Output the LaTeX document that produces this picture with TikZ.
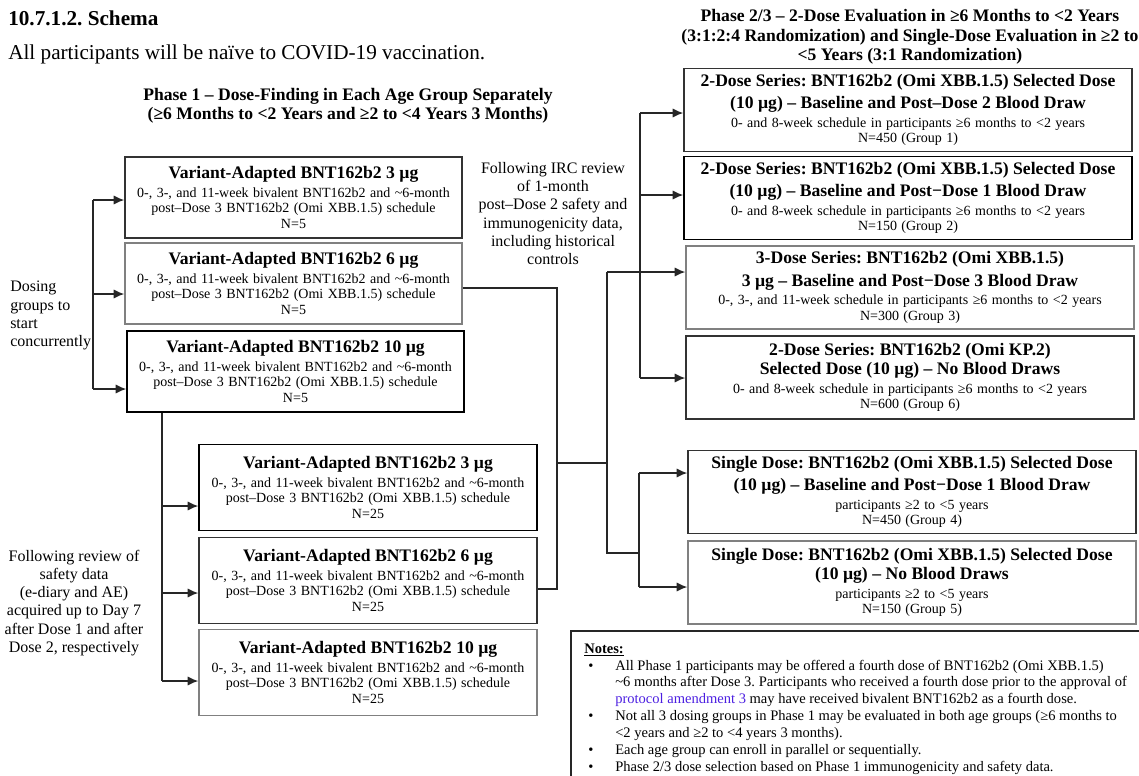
\documentclass[tikz,border=0pt]{standalone}
\usepackage{fontspec}
\setmainfont{Liberation Serif}
\usepackage{tikz}
\usetikzlibrary{arrows.meta}
\definecolor{linkblue}{RGB}{75,30,225}
\frenchspacing

\newcommand{\hdfont}{\fontsize{13.2}{17}\selectfont\bfseries}
\newcommand{\subfont}{\fontsize{10.5}{11.75}\selectfont}
\newcommand{\boxtext}[2]{{\hdfont #1\par}\vspace{2pt}{\subfont #2\par}}
\newcommand{\sched}{0-, 3-, and 11-week bivalent BNT162b2 and \textasciitilde6-month\\post–Dose 3 BNT162b2 (Omi XBB.1.5) schedule}

\begin{document}
\begin{tikzpicture}
	[x=0.75pt,y=-0.75pt,
	abox/.style={rectangle,draw=black!80,line width=1.1pt,inner sep=0pt,minimum width=252.75pt,minimum height=61pt,text width=250pt,align=center},
	bbox/.style={abox,minimum width=253.5pt,minimum height=64.5pt},
	rbox/.style={abox,minimum width=336pt,minimum height=62pt,text width=334pt},
	pale/.style={draw=black!50},
	side/.style={inner sep=0pt,font=\fontsize{12}{13.6}\selectfont,align=center},
	head/.style={inner sep=0pt,font=\fontsize{13.2}{14.5}\selectfont\bfseries,align=center},
	wire/.style={draw=black!85,line width=1pt},
	edge/.style={wire,->,>={Latex[length=8pt,width=7pt]}}]
	\useasboundingbox (0,0) rectangle (1139,775);

	\node[anchor=base west,inner sep=0pt,font=\fontsize{15.9}{18}\selectfont\bfseries] (title) at (8,25) {10.7.1.2. Schema};
	\node[anchor=base west,inner sep=0pt,font=\fontsize{15.9}{18}\selectfont] (naive) at (8,59) {All participants will be naïve to COVID-19 vaccination.};
	\node[head] (ph1) at (348,106) {Phase 1 – Dose-Finding in Each Age Group Separately\\(≥6 Months to <2 Years and ≥2 to <4 Years 3 Months)};
	\node[head] (ph23) at (910,37) {Phase 2/3 – 2-Dose Evaluation in ≥6 Months to <2 Years\\(3:1:2:4 Randomization) and Single-Dose Evaluation in ≥2 to\\<5 Years (3:1 Randomization)};

	\node[side,anchor=west,align=left] (dosing) at (10,315.5) {Dosing\\groups to\\start\\concurrently};
	\node[side] (irc) at (553,213.5) {Following IRC review\\of 1-month\\post–Dose 2 safety and\\immunogenicity data,\\including historical\\controls};
	\node[side] (review) at (74,603) {Following review of\\safety data\\(e-diary and AE)\\acquired up to Day 7\\after Dose 1 and after\\Dose 2, respectively};

	\node[abox] (A1) at (293.5,197.5) {\boxtext{Variant-Adapted BNT162b2 3 µg}{\sched\\N=5}};
	\node[abox,pale] (A2) at (293.5,283.5) {\boxtext{Variant-Adapted BNT162b2 6 µg}{\sched\\N=5}};
	\node[abox,draw=black] (A3) at (295.5,371.5) {\boxtext{Variant-Adapted BNT162b2 10 µg}{\sched\\N=5}};

	\node[bbox,draw=black] (B1) at (368,487.5) {\boxtext{Variant-Adapted BNT162b2 3 µg}{\sched\\N=25}};
	\node[bbox] (B2) at (368,580.5) {\boxtext{Variant-Adapted BNT162b2 6 µg}{\sched\\N=25}};
	\node[bbox,pale] (B3) at (368,672.5) {\boxtext{Variant-Adapted BNT162b2 10 µg}{\sched\\N=25}};

	\node[rbox] (R1) at (908,110) {\boxtext{2-Dose Series: BNT162b2 (Omi XBB.1.5) Selected Dose\\(10 µg) – Baseline and Post–Dose 2 Blood Draw}{0- and 8-week schedule in participants ≥6 months to <2 years\\N=450 (Group 1)}};
	\node[rbox,draw=black] (R2) at (908,198) {\boxtext{2-Dose Series: BNT162b2 (Omi XBB.1.5) Selected Dose\\(10 µg) – Baseline and Post−Dose 1 Blood Draw}{0- and 8-week schedule in participants ≥6 months to <2 years\\N=150 (Group 2)}};
	\node[rbox,pale] (R3) at (910,287.5) {\boxtext{3-Dose Series: BNT162b2 (Omi XBB.1.5)\\3 µg – Baseline and Post−Dose 3 Blood Draw}{0-, 3-, and 11-week schedule in participants ≥6 months to <2 years\\N=300 (Group 3)}};
	\node[rbox] (R4) at (910,377.5) {\boxtext{2-Dose Series: BNT162b2 (Omi KP.2)\\[-2.5pt]Selected Dose (10 µg) – No Blood Draws}{0- and 8-week schedule in participants ≥6 months to <2 years\\N=600 (Group 6)}};
	\node[rbox] (R5) at (912,492) {\boxtext{Single Dose: BNT162b2 (Omi XBB.1.5) Selected Dose\\(10 µg) – Baseline and Post−Dose 1 Blood Draw}{participants ≥2 to <5 years\\N=450 (Group 4)}};
	\node[rbox,pale] (R6) at (912,582.5) {\boxtext{Single Dose: BNT162b2 (Omi XBB.1.5) Selected Dose\\[-2.5pt](10 µg) – No Blood Draws}{participants ≥2 to <5 years\\N=150 (Group 5)}};

	\coordinate (ja1) at (93,200);
	\coordinate (ja2) at (93,294);
	\coordinate (ja3) at (93,389);
	\coordinate (jb1) at (162,506);
	\coordinate (jb2) at (162,593);
	\coordinate (jb3) at (162,681);
	\coordinate (m1) at (557,288);
	\coordinate (m2) at (557,463);
	\coordinate (m3) at (557,589);
	\coordinate (p1) at (607,272);
	\coordinate (p2) at (607,463);
	\coordinate (p3) at (607,553);
	\coordinate (q1) at (639,473);
	\coordinate (q2) at (639,553);
	\coordinate (q3) at (639,587);
	\coordinate (r1) at (640,113);
	\coordinate (r2) at (640,195);
	\coordinate (r3) at (640,378);

	\draw[wire] (ja1) -- (ja3);
	\draw[wire] (A3.south -| jb1) -- (jb3);
	\draw[wire] (A2.east |- m1) -- (m1) -- (m3) -- (B2.east |- m3);
	\draw[wire] (m2) -- (p2);
	\draw[wire] (p1) -- (p3) -- (q2);
	\draw[wire] (q1) -- (q3);
	\draw[wire] (r1) -- (r3);

	\foreach \from/\to in {ja1/A1,ja2/A2,ja3/A3,jb1/B1,jb2/B2,jb3/B3,p1/R3,q1/R5,q3/R6,r1/R1,r2/R2,r3/R4}
	\draw[edge] (\from) -- (\from -| \to.west);

	\draw[wire,line width=1.1pt] (571,790) -- (571,631) -- (1150,631);
	\node[anchor=north west,inner sep=0pt,font=\fontsize{10.9}{12.7}\selectfont] (notes) at (584,641) {%
		\begin{tabular}{@{}p{23.25pt}@{}l@{}}
			\multicolumn{2}{@{}l}{\textbf{\underline{Notes:}}}\\
			\hspace{3pt}\textbullet & All Phase 1 participants may be offered a fourth dose of BNT162b2 (Omi XBB.1.5)\\
			& \textasciitilde6 months after Dose 3. Participants who received a fourth dose prior to the approval of\\
			& \textcolor{linkblue}{protocol amendment 3} may have received bivalent BNT162b2 as a fourth dose.\\
			\hspace{3pt}\textbullet & Not all 3 dosing groups in Phase 1 may be evaluated in both age groups (≥6 months to\\
			& <2 years and ≥2 to <4 years 3 months).\\
			\hspace{3pt}\textbullet & Each age group can enroll in parallel or sequentially.\\
			\hspace{3pt}\textbullet & Phase 2/3 dose selection based on Phase 1 immunogenicity and safety data.\\
		\end{tabular}};

\end{tikzpicture}
\end{document}
